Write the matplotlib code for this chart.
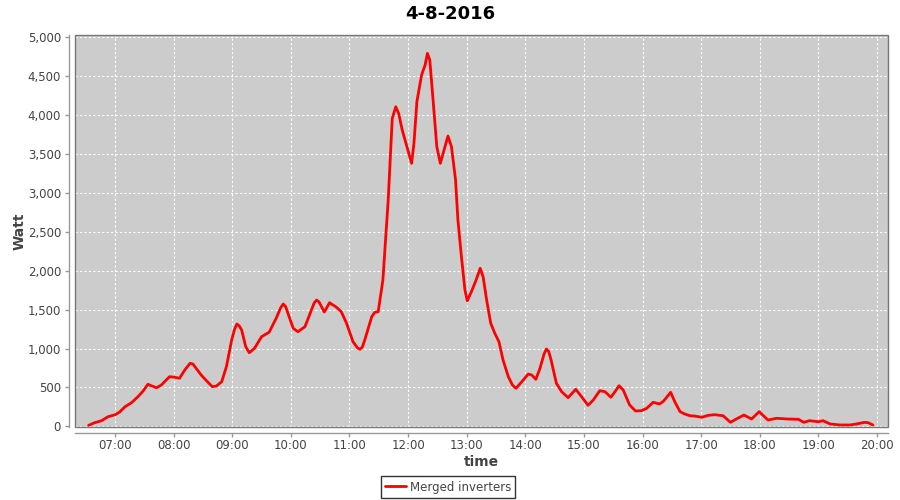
import matplotlib
matplotlib.use("Agg")
import matplotlib.pyplot as plt
from matplotlib.patches import Rectangle

title = "4-8-2016"
series_name = "Merged inverters"
x_label = "time"
y_label = "Watt"

# time of day in decimal hours
hours = [6.55, 6.65, 6.77, 6.88, 7.0, 7.08, 7.17, 7.28, 7.39, 7.48, 7.56, 7.63, 7.71, 7.79,
         7.93, 8.02, 8.10, 8.19, 8.28, 8.33, 8.47, 8.56, 8.66, 8.73, 8.82, 8.90, 8.99, 9.04,
         9.08, 9.12, 9.16, 9.23, 9.29, 9.38, 9.50, 9.63, 9.75, 9.83, 9.87, 9.91, 9.95, 10.04,
         10.12, 10.24, 10.35, 10.40, 10.44, 10.48, 10.57, 10.66, 10.78, 10.86, 10.95, 11.06,
         11.14, 11.18, 11.22, 11.26, 11.38, 11.43, 11.49, 11.57, 11.66, 11.73, 11.79, 11.84,
         11.90, 11.98, 12.06, 12.10, 12.15, 12.23, 12.29, 12.33, 12.37, 12.41, 12.49, 12.55,
         12.63, 12.68, 12.74, 12.81, 12.85, 12.91, 12.97, 13.01, 13.08, 13.16, 13.23, 13.28,
         13.34, 13.41, 13.48, 13.55, 13.62, 13.71, 13.78, 13.84, 13.94, 14.05, 14.11, 14.18,
         14.25, 14.32, 14.36, 14.40, 14.44, 14.53, 14.62, 14.73, 14.86, 14.96, 15.07, 15.16,
         15.27, 15.36, 15.46, 15.53, 15.60, 15.67, 15.78, 15.88, 15.98, 16.07, 16.18, 16.29,
         16.36, 16.48, 16.55, 16.64, 16.72, 16.81, 16.89, 17.01, 17.12, 17.23, 17.375, 17.50,
         17.60, 17.73, 17.86, 17.99, 18.14, 18.29, 18.46, 18.66, 18.75, 18.85, 19.0, 19.08,
         19.20, 19.37, 19.54, 19.65, 19.79, 19.85, 19.93]

watts = [13, 46, 72, 123, 149, 184, 252, 303, 380, 454, 540, 518, 496, 531,
         638, 630, 617, 724, 810, 800, 659, 586, 509, 518, 573, 766, 1109, 1250,
         1315, 1290, 1238, 1023, 946, 1003, 1152, 1210, 1390, 1530, 1572, 1540, 1452, 1260,
         1216, 1280, 1495, 1590, 1623, 1600, 1469, 1589, 1529, 1473, 1324, 1087,
         1005, 990, 1020, 1109, 1409, 1465, 1473, 1880, 2900, 3959, 4108, 4020,
         3808, 3594, 3380, 3637, 4172, 4515, 4644, 4794, 4708, 4344, 3594, 3380,
         3594, 3731, 3594, 3165, 2652, 2180, 1752, 1614, 1730, 1880, 2031, 1923,
         1623, 1324, 1195, 1087, 852, 638, 531, 488, 573, 672, 659, 604,
         745, 930, 994, 960, 852, 553, 445, 368, 476, 380, 270, 338,
         458, 445, 373, 445, 522, 467, 274, 197, 201, 231, 308, 287,
         325, 437, 316, 188, 158, 136, 132, 116, 141, 149, 136, 51,
         94, 145, 94, 188, 81, 103, 94, 90, 51, 72, 59, 72,
         30, 17, 17, 30, 51, 46, 17]

x_ticks = list(range(7, 21))
x_tick_labels = ["%02d:00" % h for h in x_ticks]
y_ticks = [0, 500, 1000, 1500, 2000, 2500, 3000, 3500, 4000, 4500, 5000]
y_tick_labels = ["{:,}".format(v) for v in y_ticks]

plt.rcParams['font.family'] = ['DejaVu Sans']

fig = plt.figure(figsize=(9, 5), dpi=100)
ax = fig.add_axes([75 / 900, 1 - 427 / 500, (888 - 75) / 900, (427 - 35) / 500])
ax.set_facecolor('#cccccc')

line, = ax.plot(hours, watts, color='#ff0000', lw=2.0, label=series_name,
                solid_joinstyle='round', solid_capstyle='round', zorder=3)

ax.set_xlim(6.317, 20.188)
ax.set_ylim(-9, 5030)
ax.set_xticks(x_ticks)
ax.set_xticklabels(x_tick_labels)
ax.set_yticks(y_ticks)
ax.set_yticklabels(y_tick_labels)

ax.grid(True, color='white', linestyle=(0, (2, 2)), lw=0.8, zorder=1)
ax.set_axisbelow(True)

for s in ['top', 'right']:
    ax.spines[s].set_visible(False)
for s in ['left', 'bottom']:
    ax.spines[s].set_position(('outward', 4))
    ax.spines[s].set_color('#999999')
    ax.spines[s].set_linewidth(1)

ax.add_patch(Rectangle((0, 0), 1, 1, transform=ax.transAxes, fill=False,
                       edgecolor='#777777', lw=1, clip_on=False, zorder=4))

ax.tick_params(axis='both', colors='#999999', labelcolor='#444444',
               labelsize=8.5, length=3, width=1)
ax.tick_params(axis='x', pad=1.5)
ax.tick_params(axis='y', pad=3)

ax.set_xlabel(x_label, fontsize=10, fontweight='bold', color='#444444', labelpad=2)
ax.set_ylabel(y_label, fontsize=10, fontweight='bold', color='#444444', labelpad=1)

fig.text(0.5, 0.972, title, ha='center', va='center', fontsize=13, fontweight='bold',
         color='black')

leg = fig.legend(handles=[line], loc='center', bbox_to_anchor=(0.498, 0.026),
                 fontsize=8.5, frameon=True, fancybox=False, handlelength=1.8,
                 handletextpad=0.3, borderpad=0.35, borderaxespad=0)
leg.get_frame().set_edgecolor('black')
leg.get_frame().set_linewidth(1)
for t in leg.get_texts():
    t.set_color('#444444')

fig.savefig('out.png', dpi=100)
